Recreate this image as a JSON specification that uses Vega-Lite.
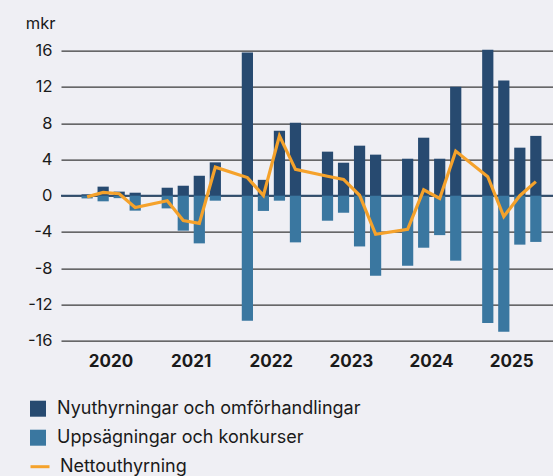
{
  "$schema": "https://vega.github.io/schema/vega-lite/v6.json",
  "width": 492,
  "height": 290,
  "autosize": {"type": "none"},
  "padding": {"left": 61, "top": 50.7, "right": 0, "bottom": 135.3},
  "background": "#efeff4",
  "config": {
    "view": {"stroke": null},
    "font": "Inter",
    "axis": {"labelFont": "Inter", "labelColor": "#1a1a1a", "titleColor": "#1a1a1a"},
    "legend": {"labelFont": "Inter", "labelFontSize": 18, "labelColor": "#1a1a1a", "padding": 0, "labelLimit": 500}
  },
  "datasets": {
    "bars": [
      {"kvartal": "2020 K1", "serie": "Nyuthyrningar och omförhandlingar", "value": 0.15},
      {"kvartal": "2020 K1", "serie": "Uppsägningar och konkurser", "value": -0.3},
      {"kvartal": "2020 K2", "serie": "Nyuthyrningar och omförhandlingar", "value": 1.0},
      {"kvartal": "2020 K2", "serie": "Uppsägningar och konkurser", "value": -0.62},
      {"kvartal": "2020 K3", "serie": "Nyuthyrningar och omförhandlingar", "value": 0.45},
      {"kvartal": "2020 K3", "serie": "Uppsägningar och konkurser", "value": -0.27},
      {"kvartal": "2020 K4", "serie": "Nyuthyrningar och omförhandlingar", "value": 0.33},
      {"kvartal": "2020 K4", "serie": "Uppsägningar och konkurser", "value": -1.65},
      {"kvartal": "2021 K1", "serie": "Nyuthyrningar och omförhandlingar", "value": 0.88},
      {"kvartal": "2021 K1", "serie": "Uppsägningar och konkurser", "value": -1.4},
      {"kvartal": "2021 K2", "serie": "Nyuthyrningar och omförhandlingar", "value": 1.1},
      {"kvartal": "2021 K2", "serie": "Uppsägningar och konkurser", "value": -3.86},
      {"kvartal": "2021 K3", "serie": "Nyuthyrningar och omförhandlingar", "value": 2.2},
      {"kvartal": "2021 K3", "serie": "Uppsägningar och konkurser", "value": -5.26},
      {"kvartal": "2021 K4", "serie": "Nyuthyrningar och omförhandlingar", "value": 3.68},
      {"kvartal": "2021 K4", "serie": "Uppsägningar och konkurser", "value": -0.55},
      {"kvartal": "2022 K1", "serie": "Nyuthyrningar och omförhandlingar", "value": 15.8},
      {"kvartal": "2022 K1", "serie": "Uppsägningar och konkurser", "value": -13.8},
      {"kvartal": "2022 K2", "serie": "Nyuthyrningar och omförhandlingar", "value": 1.75},
      {"kvartal": "2022 K2", "serie": "Uppsägningar och konkurser", "value": -1.68},
      {"kvartal": "2022 K3", "serie": "Nyuthyrningar och omförhandlingar", "value": 7.17},
      {"kvartal": "2022 K3", "serie": "Uppsägningar och konkurser", "value": -0.55},
      {"kvartal": "2022 K4", "serie": "Nyuthyrningar och omförhandlingar", "value": 8.06},
      {"kvartal": "2022 K4", "serie": "Uppsägningar och konkurser", "value": -5.15},
      {"kvartal": "2023 K1", "serie": "Nyuthyrningar och omförhandlingar", "value": 4.86},
      {"kvartal": "2023 K1", "serie": "Uppsägningar och konkurser", "value": -2.76},
      {"kvartal": "2023 K2", "serie": "Nyuthyrningar och omförhandlingar", "value": 3.64},
      {"kvartal": "2023 K2", "serie": "Uppsägningar och konkurser", "value": -1.88},
      {"kvartal": "2023 K3", "serie": "Nyuthyrningar och omförhandlingar", "value": 5.52},
      {"kvartal": "2023 K3", "serie": "Uppsägningar och konkurser", "value": -5.6},
      {"kvartal": "2023 K4", "serie": "Nyuthyrningar och omförhandlingar", "value": 4.53},
      {"kvartal": "2023 K4", "serie": "Uppsägningar och konkurser", "value": -8.83},
      {"kvartal": "2024 K1", "serie": "Nyuthyrningar och omförhandlingar", "value": 4.08},
      {"kvartal": "2024 K1", "serie": "Uppsägningar och konkurser", "value": -7.73},
      {"kvartal": "2024 K2", "serie": "Nyuthyrningar och omförhandlingar", "value": 6.4},
      {"kvartal": "2024 K2", "serie": "Uppsägningar och konkurser", "value": -5.74},
      {"kvartal": "2024 K3", "serie": "Nyuthyrningar och omförhandlingar", "value": 4.08},
      {"kvartal": "2024 K3", "serie": "Uppsägningar och konkurser", "value": -4.35},
      {"kvartal": "2024 K4", "serie": "Nyuthyrningar och omförhandlingar", "value": 12.03},
      {"kvartal": "2024 K4", "serie": "Uppsägningar och konkurser", "value": -7.17},
      {"kvartal": "2025 K1", "serie": "Nyuthyrningar och omförhandlingar", "value": 16.1},
      {"kvartal": "2025 K1", "serie": "Uppsägningar och konkurser", "value": -14.05},
      {"kvartal": "2025 K2", "serie": "Nyuthyrningar och omförhandlingar", "value": 12.7},
      {"kvartal": "2025 K2", "serie": "Uppsägningar och konkurser", "value": -15.0},
      {"kvartal": "2025 K3", "serie": "Nyuthyrningar och omförhandlingar", "value": 5.3},
      {"kvartal": "2025 K3", "serie": "Uppsägningar och konkurser", "value": -5.4},
      {"kvartal": "2025 K4", "serie": "Nyuthyrningar och omförhandlingar", "value": 6.6},
      {"kvartal": "2025 K4", "serie": "Uppsägningar och konkurser", "value": -5.1}
    ],
    "netto": [
      {"kvartal": "2020 K1", "value": -0.13},
      {"kvartal": "2020 K2", "value": 0.37},
      {"kvartal": "2020 K3", "value": 0.22},
      {"kvartal": "2020 K4", "value": -1.3},
      {"kvartal": "2021 K1", "value": -0.55},
      {"kvartal": "2021 K2", "value": -2.75},
      {"kvartal": "2021 K3", "value": -3.05},
      {"kvartal": "2021 K4", "value": 3.15},
      {"kvartal": "2022 K1", "value": 2.0},
      {"kvartal": "2022 K2", "value": 0.02},
      {"kvartal": "2022 K3", "value": 6.6},
      {"kvartal": "2022 K4", "value": 2.9},
      {"kvartal": "2023 K1", "value": 2.15},
      {"kvartal": "2023 K2", "value": 1.8},
      {"kvartal": "2023 K3", "value": 0.05},
      {"kvartal": "2023 K4", "value": -4.25},
      {"kvartal": "2024 K1", "value": -3.72},
      {"kvartal": "2024 K2", "value": 0.65},
      {"kvartal": "2024 K3", "value": -0.3},
      {"kvartal": "2024 K4", "value": 4.92},
      {"kvartal": "2025 K1", "value": 2.1},
      {"kvartal": "2025 K2", "value": -2.3},
      {"kvartal": "2025 K3", "value": 0.0},
      {"kvartal": "2025 K4", "value": 1.55}
    ]
  },
  "encoding": {
    "x": {
      "field": "kvartal",
      "type": "nominal",
      "scale": {
        "domain": ["2020 K1","2020 K2","2020 K3","2020 K4","g2020","2021 K1","2021 K2","2021 K3","2021 K4","g2021","2022 K1","2022 K2","2022 K3","2022 K4","g2022","2023 K1","2023 K2","2023 K3","2023 K4","g2023","2024 K1","2024 K2","2024 K3","2024 K4","g2024","2025 K1","2025 K2","2025 K3","2025 K4"],
        "paddingInner": 0.3,
        "paddingOuter": 1.318,
        "align": 0.64
      },
      "axis": {
        "title": null,
        "values": ["2020 K2","2021 K2","2022 K2","2023 K2","2024 K2","2025 K2"],
        "labelExpr": "slice(datum.value, 0, 4)",
        "labelOffset": 7.85,
        "labelAngle": 0,
        "labelFontSize": 17,
        "labelFontWeight": "bold",
        "labelPadding": 13,
        "domain": false,
        "ticks": false,
        "grid": false
      }
    },
    "y": {
      "field": "value",
      "type": "quantitative",
      "stack": null,
      "scale": {"domain": [-16, 16], "nice": false},
      "axis": {
        "title": "mkr",
        "titleAngle": 0,
        "titleAlign": "right",
        "titleBaseline": "alphabetic",
        "titleX": -6,
        "titleY": -22,
        "titleFontSize": 16.5,
        "titleFontWeight": "normal",
        "titleFont": "Inter",
        "values": [-16, -12, -8, -4, 0, 4, 8, 12, 16],
        "labelExpr": "toString(datum.value)",
        "labelOverlap": false,
        "labelFontSize": 16.5,
        "labelPadding": 9,
        "domain": false,
        "ticks": false,
        "grid": true,
        "gridColor": "#3a3a3a",
        "gridWidth": 1.3
      }
    }
  },
  "layer": [
    {
      "data": {"values": [{"value": 0}]},
      "mark": {"type": "rule", "color": "#2f4d6e", "strokeWidth": 2},
      "encoding": {"x": null}
    },
    {
      "data": {"name": "bars"},
      "mark": {"type": "bar"},
      "encoding": {
        "color": {
          "field": "serie",
          "type": "nominal",
          "scale": {
            "domain": ["Nyuthyrningar och omförhandlingar", "Uppsägningar och konkurser"],
            "range": ["#274a70", "#3a77a0"]
          },
          "legend": {
            "title": null,
            "orient": "none",
            "legendX": -32,
            "legendY": 349,
            "symbolType": "square",
            "symbolSize": 256,
            "symbolStrokeWidth": 0,
            "labelOffset": 10,
            "rowPadding": 11
          }
        }
      }
    },
    {
      "data": {"name": "netto"},
      "mark": {"type": "line", "strokeWidth": 3.2, "strokeJoin": "miter"},
      "encoding": {
        "stroke": {
          "datum": "Nettouthyrning",
          "scale": {"range": ["#f5a22b"]},
          "legend": {
            "title": null,
            "orient": "none",
            "legendX": -32,
            "legendY": 405,
            "symbolType": "stroke",
            "symbolSize": 361,
            "symbolStrokeWidth": 3,
            "labelOffset": 9
          }
        }
      }
    }
  ]
}
